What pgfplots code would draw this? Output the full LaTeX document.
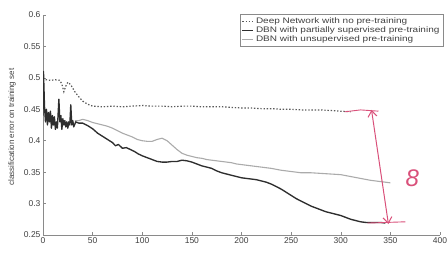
\documentclass[border=0pt]{standalone}
\usepackage{fontspec}
\setmainfont{Liberation Sans}
\newfontfamily\legfont[FakeStretch=1.25]{Liberation Sans}
\usepackage{pgfplots}
\pgfplotsset{compat=1.18}
\usetikzlibrary{arrows.meta,calc}
\definecolor{txt}{HTML}{404040}
\definecolor{axc}{HTML}{8A8A8A}
\definecolor{dotc}{HTML}{5A5A5A}
\definecolor{blk}{HTML}{2E2E2E}
\definecolor{gry}{HTML}{ABABAB}
\definecolor{pink}{HTML}{D9507A}
\begin{document}
\begin{tikzpicture}
\begin{axis}[
  name=ax,
  scale only axis, width=397pt, height=220pt,
  xmin=0, xmax=400, ymin=0.25, ymax=0.6,
  xtick={0,50,...,400},
  ytick={0.25,0.3,0.35,0.4,0.45,0.5,0.55,0.6},
  /pgf/number format/assume math mode=true,
  /pgf/number format/fixed,
  axis x line*=bottom, axis y line*=left,
  axis line style={axc, line width=0.6pt},
  tick style={axc, line width=0.5pt},
  tick align=inside, major tick length=3pt,
  ticklabel style={font=\fontsize{8.5}{9}\selectfont, text=txt},
  xticklabel style={yshift=1pt},
  yticklabel style={xshift=1pt},
  ylabel={classification error on training set},
  ylabel style={at={(axis description cs:-0.078,0.49)}, anchor=center, font=\fontsize{8}{9}\selectfont, text=txt},
  legend style={at={(rel axis cs:1.008,1.003)}, anchor=north east, draw=axc, line width=0.5pt,
    font=\legfont\fontsize{8}{8.5}\selectfont, text=txt, inner sep=1.5pt, row sep=-2.5pt,
    legend cell align=left},
  legend image code/.code={\draw[#1] (0pt,0pt) -- (11pt,0pt);},
]
\addplot[dotc, line width=1.2pt, dash pattern=on 1.4pt off 1.8pt] coordinates {
(0,0.50)(3,0.497)(8,0.496)(12,0.497)(17,0.496)(19,0.49)(21,0.478)(23,0.487)(25,0.493)(28,0.489)(32,0.478)(36,0.47)(40,0.463)(45,0.458)(50,0.455)(60,0.454)(70,0.455)(80,0.454)(90,0.455)(100,0.456)(110,0.455)(120,0.455)(130,0.454)(140,0.455)(150,0.455)(160,0.454)(170,0.454)(180,0.454)(190,0.453)(200,0.452)(210,0.452)(220,0.451)(230,0.451)(240,0.450)(250,0.450)(260,0.449)(270,0.449)(280,0.449)(290,0.448)(300,0.447)(310,0.446)
};
\addlegendentry{Deep Network with no pre-training}
\addplot[blk, line width=1.35pt, line join=round] coordinates {
(0,0.44)(0.5,0.51)(1.5,0.455)(2.5,0.43)(3.5,0.45)(4.5,0.425)(5.5,0.445)(6.5,0.43)(7.5,0.447)(8.5,0.42)(9.5,0.44)(10.5,0.425)(11.5,0.438)(12.5,0.418)(13.5,0.43)(14.5,0.42)(16,0.466)(17,0.43)(18,0.44)(19,0.418)(20,0.435)(21,0.425)(22,0.432)(23,0.422)(24,0.43)(25,0.42)(26,0.43)(27,0.425)(28,0.457)(29,0.425)(30,0.432)(31,0.422)(33,0.43)(36,0.428)(40,0.428)(45,0.424)(50,0.419)(55,0.412)(60,0.407)(65,0.402)(70,0.397)(73,0.392)(76,0.394)(80,0.388)(84,0.389)(88,0.386)(92,0.383)(96,0.379)(100,0.376)(105,0.373)(110,0.37)(115,0.367)(120,0.366)(125,0.366)(130,0.367)(135,0.367)(140,0.369)(145,0.368)(150,0.366)(155,0.363)(160,0.360)(165,0.358)(170,0.356)(175,0.352)(180,0.349)(185,0.347)(190,0.345)(195,0.343)(200,0.341)(205,0.34)(210,0.339)(215,0.338)(220,0.336)(225,0.334)(230,0.331)(235,0.327)(240,0.323)(245,0.318)(250,0.313)(255,0.308)(260,0.304)(265,0.300)(270,0.296)(275,0.293)(280,0.290)(285,0.287)(290,0.285)(295,0.283)(300,0.281)(305,0.278)(310,0.275)(315,0.273)(320,0.271)(325,0.270)(330,0.270)(335,0.270)(340,0.270)(345,0.269)
};
\addlegendentry{DBN with partially supervised pre-training}
\addplot[gry, line width=1.1pt, line join=round] coordinates {
(32,0.432)(36,0.432)(40,0.434)(45,0.432)(50,0.429)(55,0.427)(60,0.425)(65,0.423)(70,0.42)(75,0.416)(80,0.412)(85,0.409)(90,0.406)(95,0.402)(100,0.4)(105,0.399)(110,0.399)(115,0.402)(120,0.404)(125,0.4)(130,0.393)(135,0.386)(140,0.380)(145,0.377)(150,0.375)(155,0.373)(160,0.372)(165,0.37)(170,0.369)(175,0.368)(180,0.367)(185,0.366)(190,0.365)(195,0.363)(200,0.362)(210,0.36)(220,0.358)(230,0.356)(240,0.353)(250,0.351)(260,0.349)(270,0.349)(280,0.348)(290,0.347)(300,0.346)(310,0.343)(320,0.34)(330,0.337)(340,0.335)(350,0.333)
};
\addlegendentry{DBN with unsupervised pre-training}
% hand-drawn annotation
\draw[pink, line width=1pt, {Straight Barb[length=6pt,width=9pt]}-{Straight Barb[length=6pt,width=9pt]}] (axis cs:331,0.449) -- (axis cs:348,0.2675);
\draw[pink, line width=0.9pt] (axis cs:304,0.446) -- (axis cs:320,0.449) -- (axis cs:338,0.447);
\draw[pink, line width=0.9pt] (axis cs:327,0.269) -- (axis cs:365,0.271);
\node[pink, font=\fontsize{24}{24}\selectfont\itshape] at (axis cs:372,0.34) {8};
\end{axis}
\pgfresetboundingbox
\path ($(ax.south west)+(-43pt,-21pt)$) rectangle ($(ax.north east)+(8pt,15pt)$);
\end{tikzpicture}
\end{document}
